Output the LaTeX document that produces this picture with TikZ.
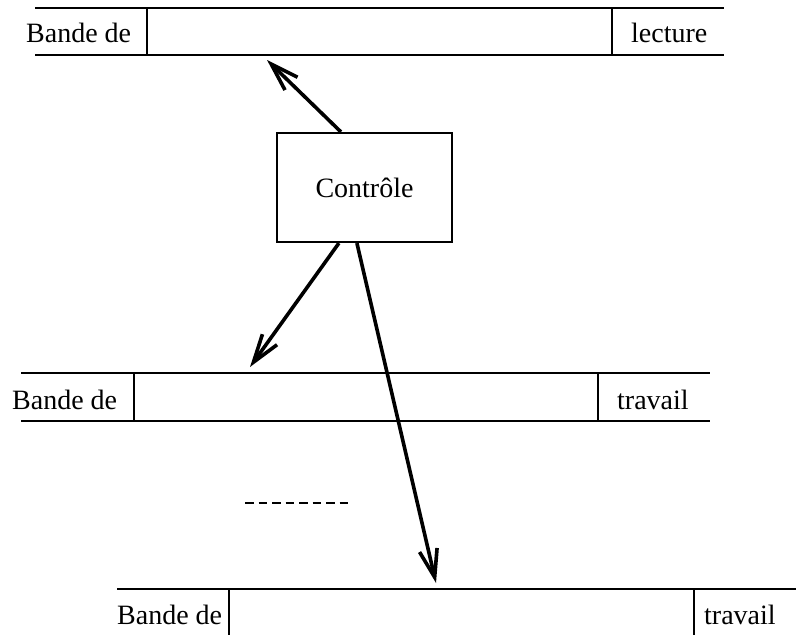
\documentclass[tikz,border=0pt]{standalone}
\usepackage{fontspec}
\setmainfont{Liberation Serif}
\usetikzlibrary{arrows.meta}
\begin{document}
\begin{tikzpicture}[x=1pt,y=-1pt,
  tape/.style={line width=2.2pt},
  lbl/.style={inner sep=0pt,font=\fontsize{28}{34}\selectfont},
  ctrl/.style={draw,line width=2.2pt,minimum width=175pt,minimum height=109pt,inner sep=0pt,font=\fontsize{28}{34}\selectfont},
  link/.style={line width=3.6pt,-{Straight Barb[length=28pt,width=18pt]}},
  gap/.style={line width=2.4pt,dash pattern=on 8.5pt off 5pt}]
\useasboundingbox (0,0) rectangle (796,635);

% reading tape
\draw[tape] (35,8) -- (724,8) (35,55) -- (724,55) (147,8) -- (147,55) (612,8) -- (612,55);
\node[lbl,anchor=west] (t1a) at (26,33) {Bande de};
\node[lbl,anchor=west] (t1b) at (631,33) {lecture};
\coordinate (h1) at (267,60);

% control unit
\node[ctrl] (ctl) at (364.5,187.5) {Contrôle};

% first work tape
\draw[tape] (21,373) -- (710,373) (21,421) -- (710,421) (134,373) -- (134,421) (598,373) -- (598,421);
\node[lbl,anchor=west] (t2a) at (12,400) {Bande de};
\node[lbl,anchor=west] (t2b) at (617,400) {travail};
\coordinate (h2) at (250,367);

% ellipsis between tapes
\coordinate (d1) at (245,503);
\coordinate (d2) at (351,503);
\draw[gap] (d1) -- (d2);

% last work tape
\draw[tape] (117,589) -- (796,589) (229,589) -- (229,635) (694,589) -- (694,635);
\node[lbl,anchor=west] (t3a) at (117,615) {Bande de};
\node[lbl,anchor=west] (t3b) at (704,615) {travail};
\coordinate (h3) at (436,583);

% heads
\draw[link] (ctl.north west) ++(65,0) coordinate (s1) (s1) -- (h1);
\draw[link] (ctl.south west) ++(63,0) coordinate (s2) (s2) -- (h2);
\draw[link] (ctl.south west) ++(81,0) coordinate (s3) (s3) -- (h3);
\end{tikzpicture}
\end{document}
